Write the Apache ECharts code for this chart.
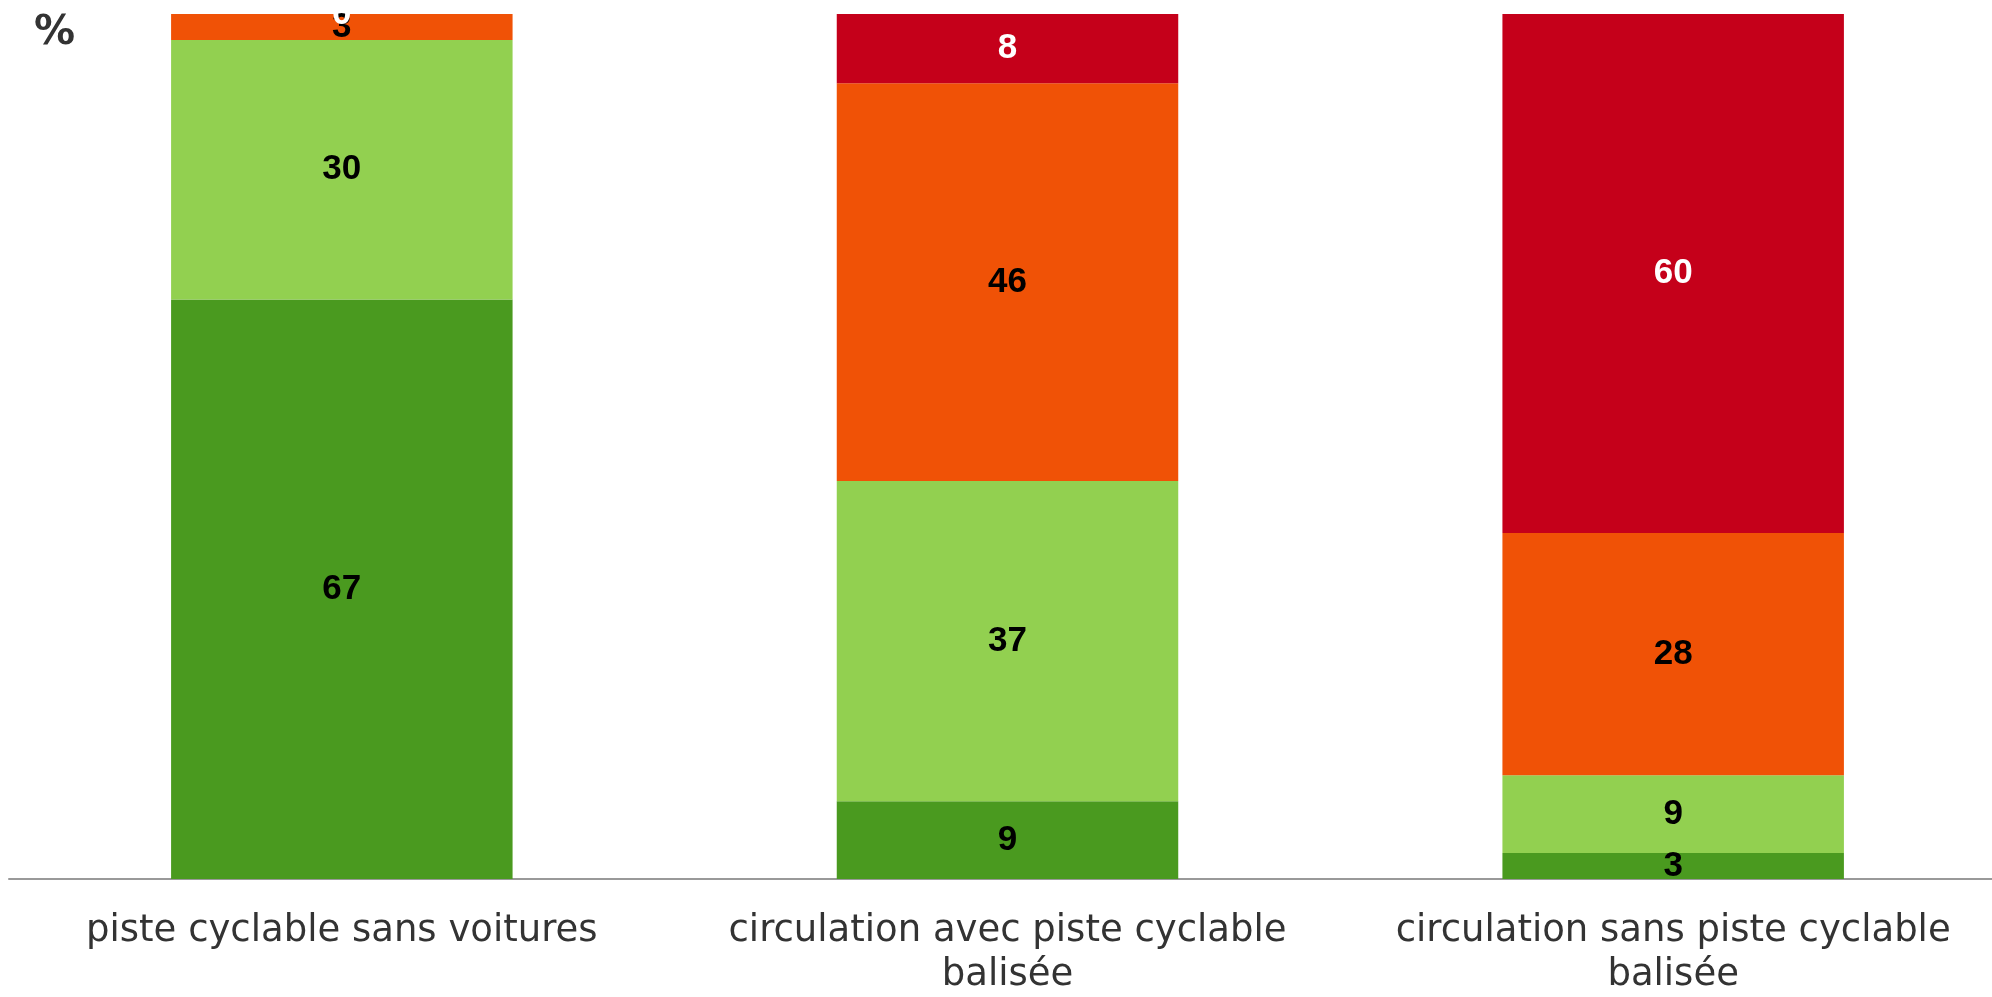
<!DOCTYPE html>
<html>
<head>
    <meta charset="UTF-8">
    <title>Piste cyclable</title>
    <script src="https://cdn.jsdelivr.net/npm/echarts@6/dist/echarts.min.js"></script>
    <style>
        html, body { margin: 0; padding: 0; background: #fff; overflow: hidden; }
        #main { width: 2006px; height: 997px; }
    </style>
</head>
<body>
<div id="main"></div>
<script>
    // categories (x axis)
    var categories = ['piste cyclable sans voitures', 'circulation avec piste cyclable\nbalisée', 'circulation sans piste cyclable\nbalisée'];
    // stacked series, bottom to top
    var seriesNames = ['s1', 's2', 's3', 's4'];
    var darkGreen = [67, 9, 3];
    var lightGreen = [30, 37, 9];
    var orange = [3, 46, 28];
    var red = [0, 8, 60];

    var colors = ['#4a9a1f', '#92d050', '#f05206', '#c5001a'];
    var labelColors = ['#000', '#000', '#000', '#fff'];
    var values = [darkGreen, lightGreen, orange, red];

    // chart div is a bit wider than the window, the last category band runs off the right edge
    var myChart = echarts.init(document.getElementById('main'));

    var series = [];
    for (var i = 0; i < values.length; i++) {
        series.push({
            name: seriesNames[i],
            type: 'bar',
            stack: 'total',
            barWidth: '51.3%',
            data: values[i],
            itemStyle: { color: colors[i] },
            label: {
                show: true,
                position: 'inside',
                color: labelColors[i],
                fontFamily: 'Liberation Sans, Arial',
                fontWeight: 'bold',
                fontSize: 35
            }
        });
    }

    var option = {
        animation: false,
        title: {
            text: '%',
            left: 29,
            top: 8,
            textStyle: { fontFamily: 'DejaVu Sans', fontWeight: 'bold', fontSize: 41, color: '#333' }
        },
        grid: { left: 9, top: 14, right: 0, height: 870, containLabel: false },
        xAxis: {
            type: 'category',
            data: categories,
            axisTick: { show: false },
            axisLine: { lineStyle: { color: '#999', width: 2 } },
            axisLabel: {
                color: '#333',
                fontFamily: 'DejaVu Sans',
                fontSize: 37,
                lineHeight: 44,
                margin: 30,
                interval: 0
            }
        },
        yAxis: {
            type: 'value',
            min: 0,
            max: 100,
            show: false
        },
        series: series
    };
    myChart.setOption(option);
</script>
</body>
</html>
